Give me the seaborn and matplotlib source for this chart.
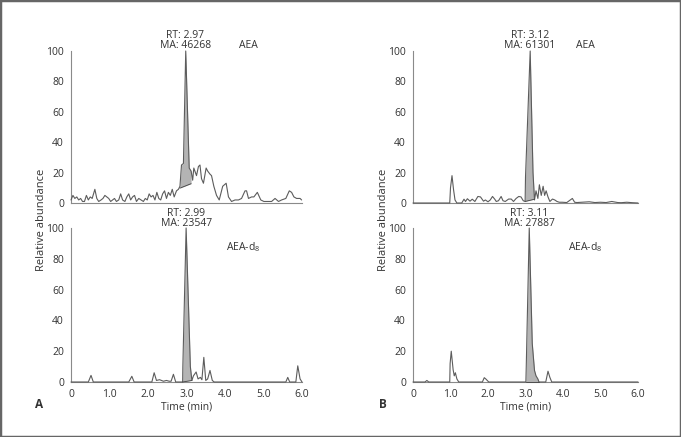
import numpy as np
import pandas as pd
import matplotlib
matplotlib.use("Agg")
import matplotlib.pyplot as plt
from matplotlib.ticker import MultipleLocator, FixedLocator
from matplotlib.patches import Rectangle
import seaborn as sns

sns.set_style("white")
plt.rcParams['font.family'] = ['Open Sans', 'DejaVu Sans']
plt.rcParams['mathtext.fontset'] = 'custom'
plt.rcParams['mathtext.rm'] = 'Open Sans'
plt.rcParams['mathtext.it'] = 'Open Sans'

# ---------------- data ----------------
# Panel A, AEA (top)
tA_aea = [0.00,0.05,0.10,0.15,0.20,0.25,0.30,0.35,0.40,0.45,0.50,0.55,0.62,0.67,0.72,0.78,0.83,
          0.88,0.93,0.98,1.03,1.08,1.13,1.18,1.24,1.29,1.34,1.40,1.45,1.50,1.55,1.60,1.65,1.70,
          1.76,1.82,1.88,1.93,1.98,2.03,2.08,2.13,2.18,2.23,2.28,2.33,2.38,2.43,2.48,2.53,2.58,
          2.63,2.68,2.74,2.79,2.83,2.87,2.92,2.98,3.07,3.12,3.16,3.19,3.26,3.31,3.35,3.39,3.44,
          3.51,3.55,3.61,3.65,3.71,3.78,3.85,3.94,4.03,4.09,4.17,4.26,4.35,4.43,4.52,4.56,4.61,
          4.69,4.75,4.84,4.93,5.01,5.10,5.21,5.30,5.39,5.47,5.58,5.67,5.73,5.79,5.86,5.95,5.99]
vA_aea = [2,5,3,4,2,3,1,1,5,2,4,3,9,3,1,2,3,
          5,4,3,1,2,3,1,2,6,2,1,4,6,2,4,5,1,
          3,2,1,3,2,6,4,5,2,7,3,2,6,8,3,7,5,
          9,4,8,9,11,25,26,100,23,21,15,23,18,24,25,16,13,
          23,21,19,18,11,5,2,11,13,4,1,2,2,3,8,8,3,
          4,4,7,2,1,1,1,3,1,2,3,8,7,4,3,3,2]
fillA_aea = (2.83, 3.12, 9.8, 12.7)   # start, end, baseline at start, baseline at end

# Panel A, AEA-d8 (bottom)
tA_d8 = [0.00,0.45,0.52,0.58,1.50,1.58,1.64,2.10,2.16,2.22,2.30,2.40,2.48,2.55,2.60,2.66,2.72,
         2.90,2.905,2.99,3.10,3.14,3.18,3.25,3.30,3.36,3.40,3.45,3.50,3.55,3.61,3.67,3.72,
         5.58,5.63,5.68,5.84,5.89,5.95,6.00]
vA_d8 = [0,0,4.3,0,0,3.7,0,0,6,1,1.5,0.5,1,0.5,0.5,5,0,
         0,10,100,10,1,4,6.5,2,3,1.5,16,1,2,7.5,1,0,
         0,3,0,0,10.5,2,0]
fillA_d8 = (2.90, 3.14, 0.0, 1.0)

# Panel B, AEA (top)
tB_aea = [0.00,0.98,1.00,1.04,1.08,1.12,1.17,1.30,1.36,1.40,1.45,1.52,1.58,1.65,1.73,1.80,1.88,
          1.93,2.00,2.06,2.12,2.18,2.22,2.28,2.35,2.40,2.46,2.55,2.62,2.68,2.75,2.82,2.88,2.94,
          2.99,3.00,3.125,3.20,3.24,3.28,3.33,3.37,3.42,3.47,3.51,3.55,3.60,3.65,3.72,3.78,3.84,
          3.90,3.98,4.10,4.25,4.31,4.37,4.50,4.70,4.85,5.00,5.15,5.30,5.46,5.55,5.70,5.85,6.00]
vB_aea = [0,0,10,18,9,2,0,0,2.5,1,2.8,1.2,2.5,1,4.3,4,1.2,
          2,0.8,2,4.3,2.5,1,1.5,4.3,1.5,1,2.6,2.6,1,3,4.3,4,1.5,
          1,17,100,20,2,8,3,12,5,11,5,8,4,1,2.6,2,1,
          0.5,0.5,0.3,3,0.5,0.3,0.5,0.8,0.3,0.5,0.3,1,0.3,0.2,0.5,0.2,0]
fillB_aea = (2.99, 3.24, 1.0, 2.5)

# Panel B, AEA-d8 (bottom)
tB_d8 = [0.00,0.32,0.37,0.42,0.98,0.99,1.02,1.07,1.10,1.13,1.17,1.22,1.85,1.90,1.94,1.98,2.02,
         3.01,3.02,3.10,3.18,3.24,3.28,3.33,3.36,3.54,3.60,3.65,3.70,6.00]
vB_d8 = [0,0,1,0,0,12,20,8,4,6,2,0,0,2.8,2,1,0,
         0,10,100,25,7.5,4,2,0,0,7,3,0,0]
fillB_d8 = (3.01, 3.36, 0.0, 0.0)

rt_labels = ["RT: 2.97", "RT: 2.99", "RT: 3.12", "RT: 3.11"]
ma_labels = ["MA: 46268", "MA: 23547", "MA: 61301", "MA: 27887"]
rt_values = [2.97, 2.99, 3.12, 3.11]
compound_labels = ["AEA", "AEA-d$_8$", "AEA", "AEA-d$_8$"]
x_ticks = [0, 1, 2, 3, 4, 5, 6]
x_ticklabels = ["0", "1.0", "2.0", "3.0", "4.0", "5.0", "6.0"]
y_ticks = [0, 20, 40, 60, 80, 100]

# ---------------- figure ----------------
W, H = 681, 437
fig = plt.figure(figsize=(W / 100, H / 100), dpi=100)

def ax_rect(x0, x1, ytop, ybot):
    return [x0 / W, 1 - ybot / H, (x1 - x0) / W, (ybot - ytop) / H]

rects = [ax_rect(71, 302, 51, 203), ax_rect(71, 302, 228, 382),
         ax_rect(413, 638, 51, 203), ax_rect(413, 638, 228, 382)]
series = [(tA_aea, vA_aea, fillA_aea), (tA_d8, vA_d8, fillA_d8),
          (tB_aea, vB_aea, fillB_aea), (tB_d8, vB_d8, fillB_d8)]

line_col = "#5c5c5c"
fill_col = "#b4b4b4"
spine_col = "#8a8a8a"
text_col = "#333333"

axes = []
for i, (rect, (t, v, fl)) in enumerate(zip(rects, series)):
    ax = fig.add_axes(rect)
    axes.append(ax)
    t = np.asarray(t, float)
    v = np.asarray(v, float)
    f0, f1, b0, b1 = fl
    m = (t >= f0 - 1e-9) & (t <= f1 + 1e-9)
    base = np.interp(t[m], [f0, f1], [b0, b1])
    ax.fill_between(t[m], base, v[m], color=fill_col, linewidth=0, zorder=1)
    df = pd.DataFrame({"t": t, "v": v})
    sns.lineplot(data=df, x="t", y="v", ax=ax, color=line_col, linewidth=0.8,
                 estimator=None, sort=False, zorder=3)
    ax.plot([f0, f1], [b0, b1], color="#444444", lw=0.6, zorder=4)
    for ln in ax.lines:
        ln.set_clip_on(False)
    ax.set_xlim(0, 6)
    ax.set_ylim(0, 100)
    ax.set_xlabel("")
    ax.set_ylabel("")
    for s in ["top", "right"]:
        ax.spines[s].set_visible(False)
    for s in ["left", "bottom"]:
        ax.spines[s].set_color(spine_col)
        ax.spines[s].set_linewidth(0.8)
    ax.yaxis.set_major_locator(FixedLocator(y_ticks))
    ax.yaxis.set_minor_locator(MultipleLocator(2))
    ax.tick_params(axis="y", which="major", direction="out", length=3, width=0.6,
                   color=spine_col, labelcolor=text_col, labelsize=7.5, pad=2)
    ax.tick_params(axis="y", which="minor", direction="out", length=1.5, width=0.5,
                   color=spine_col)
    if i % 2 == 1:
        ax.set_xticks(x_ticks)
        ax.set_xticklabels(x_ticklabels)
        ax.xaxis.set_minor_locator(MultipleLocator(0.1))
        ax.tick_params(axis="x", which="major", direction="out", length=3, width=0.6,
                       color=spine_col, labelcolor=text_col, labelsize=7.5, pad=2)
        ax.tick_params(axis="x", which="minor", direction="out", length=1.8, width=0.5,
                       color=spine_col)
        ax.set_xlabel("Time (min)", fontsize=7.5, color=text_col, labelpad=1)
    else:
        ax.set_xticks([])
    ax.set_facecolor("none")

def ftext(px, py, s, **kw):
    fig.text(px / W, 1 - py / H, s, ha="center", va="center", color=text_col, **kw)

# annotations
x_pix = lambda panel, tt: (71 + tt * 231 / 6) if panel == 0 else (413 + tt * 225 / 6)
label_rows = [(35, 46, 46), (213, 224, 247), (35, 46, 46), (213, 224, 247)]
comp_x = [248, 243, 585, 585]
for i in range(4):
    panel = 0 if i < 2 else 1
    rt_y, ma_y, comp_y = label_rows[i]
    xc = x_pix(panel, rt_values[i])
    ftext(xc, rt_y, rt_labels[i], fontsize=7.5,
          bbox=dict(facecolor="white", edgecolor="none", pad=0.5) if i % 2 == 1 else None)
    ftext(xc, ma_y, ma_labels[i], fontsize=7.5)
    ftext(comp_x[i], comp_y, compound_labels[i], fontsize=7.5)

ftext(41, 220, "Relative abundance", fontsize=8, rotation=90)
ftext(383, 220, "Relative abundance", fontsize=8, rotation=90)
ftext(39, 404, "A", fontsize=8.5, fontweight="bold")
ftext(383, 404, "B", fontsize=8.5, fontweight="bold")

fig.add_artist(Rectangle((0, 0), 1, 1, transform=fig.transFigure, fill=False,
                         edgecolor="#666666", linewidth=2.5))

fig.savefig("out.png", dpi=100)
